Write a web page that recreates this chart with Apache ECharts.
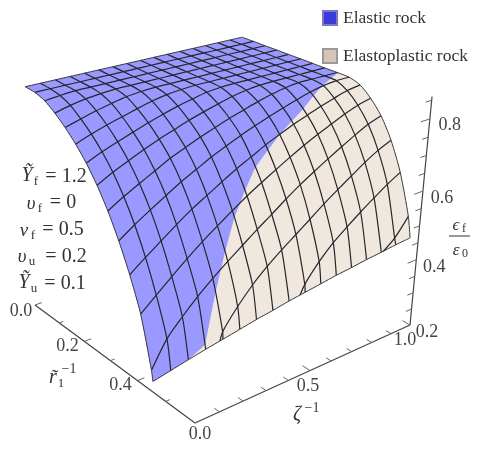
<!DOCTYPE html>
<html><head><meta charset="utf-8"><style>html,body{margin:0;padding:0;background:#fff}#c{width:481px;height:449px}</style>
<script src="https://cdn.jsdelivr.net/npm/echarts@6/dist/echarts.min.js"></script></head><body><div id="c"></div><script>
// r^-1 of the mesh rows, zeta^-1 of the mesh columns
const rowR=[0,.0375,.075,.1125,.15,.1875,.225,.2625,.3,.3375,.375,.4125,.45,.4875,.525,.5625];
const colZeta=[0,.0625,.125,.1875,.25,.3125,.375,.4375,.5,.5625,.625,.6875,.75,.8125,.875,.9375,1];
// far end of each mesh row on the zeta^-1 axis
const rowZetaEnd=[.935,.943,.95,.958,.965,.973,.98,.987,.995,1,1,1,1,1,1,1];
// epsilon_f/epsilon_0 read at each row (down) and column (across)
const zRow0=[.812,.812,.812,.812,.812,.812,.812,.812,.812,.812,.812,.812,.812,.812,.812,.812,.812];
const zRow1=[.812,.812,.812,.812,.812,.812,.812,.812,.812,.812,.812,.812,.812,.812,.812,.812,.812];
const zRow2=[.805,.809,.812,.812,.812,.812,.812,.812,.812,.812,.812,.812,.812,.812,.812,.812,.812];
const zRow3=[.788,.798,.805,.809,.812,.812,.812,.812,.812,.812,.812,.812,.812,.812,.812,.812,.812];
const zRow4=[.766,.778,.789,.798,.806,.81,.812,.812,.812,.812,.812,.812,.812,.812,.812,.812,.812];
const zRow5=[.739,.754,.767,.778,.789,.799,.806,.81,.812,.812,.812,.812,.812,.812,.812,.812,.812];
const zRow6=[.706,.724,.739,.753,.767,.779,.79,.799,.807,.811,.812,.812,.812,.812,.812,.812,.812];
const zRow7=[.665,.687,.705,.723,.739,.753,.767,.779,.79,.8,.807,.811,.812,.812,.812,.812,.812];
const zRow8=[.615,.64,.662,.683,.704,.721,.738,.752,.766,.778,.79,.8,.808,.812,.812,.812,.812];
const zRow9=[.554,.583,.609,.634,.658,.679,.7,.718,.735,.75,.764,.777,.789,.8,.808,.812,.812];
const zRow10=[.482,.514,.544,.574,.602,.626,.65,.673,.693,.714,.731,.748,.762,.776,.788,.799,.805];
const zRow11=[.395,.431,.466,.5,.532,.561,.589,.616,.64,.663,.685,.706,.725,.742,.759,.773,.782];
const zRow12=[.259,.33,.375,.415,.45,.482,.512,.542,.57,.599,.626,.65,.673,.695,.716,.735,.748];
const zRow13=[null,null,null,null,.32,.375,.42,.457,.489,.518,.547,.577,.604,.63,.656,.678,.695];
const zRow14=[null,null,null,null,null,null,null,null,null,.395,.445,.485,.516,.545,.572,.598,.62];
const zRow15=[null,null,null,null,null,null,null,null,null,null,null,null,null,null,null,.46,.51];
const zRows=[zRow0,zRow1,zRow2,zRow3,zRow4,zRow5,zRow6,zRow7,zRow8,zRow9,zRow10,zRow11,zRow12,zRow13,zRow14,zRow15];
// front rim of the surface, one point per column
const rEdge=[.455,.4637,.4723,.4806,.4889,.497,.5048,.5125,.52,.5273,.5345,.5415,.5484,.5551,.5616,.5679,.574];
const zEdge=[.23,.248,.266,.283,.299,.315,.331,.345,.36,.373,.386,.399,.41,.422,.432,.443,.452];
// elastic / elastoplastic limit
const yieldCol=[3,4,5,6,7,8,9,10,11,12,13,14,15,16];
const yieldR=[.478,.46,.44,.42,.405,.39,.383,.375,.368,.36,.348,.335,.32,.303];
const rTicks=[0,.1,.2,.3,.4,.5,.6];
const rMajor=[0,.2,.4];
const zetaTicks=[0,.1,.2,.3,.4,.5,.6,.7,.8,.9,1];
const zetaMajor=[0,.5,1];
const zTicks=[.2,.25,.3,.35,.4,.45,.5,.55,.6,.65,.7,.75,.8,.85];
const zMajor=[.2,.4,.6,.8];
const rLabels=[[0,'0.0',-14,6],[.2,'0.2',-17,5],[.4,'0.4',-17,5]];
const zetaLabels=[[0,'0.0',5,11],[.5,'0.5',-2,16],[1,'1.0',-5,15]];
const zLabels=[[.2,'0.2',17,7],[.4,'0.4',18,8],[.6,'0.6',19,7],[.8,'0.8',20,6]];
function P(r,zeta,z){const a=1-r/.6,b=zeta,t=(z-.2)/.6,D=1+.12*a+.15*b-.0834*t;
 return [(195-155.8*a+276.5*b-13*t)/D,(423-81.4*a-49.25*b-246.9*t)/D];}
const nodeP=(i,j)=>P(rowR[i],colZeta[j]*rowZetaEnd[i],zRows[i][j]);
function colPts(j,rmax){const o=[];rowR.forEach((r,i)=>{if(zRows[i][j]!==null&&(rmax===undefined||r<rmax))o.push(nodeP(i,j));});return o;}
const edgePt=j=>P(rEdge[j],colZeta[j],zEdge[j]);
function rowPts(i){const r=rowR[i],o=[];colZeta.forEach((_,j)=>{if(zRows[i][j]!==null){if(!o.length&&j>0){const s=(r-rEdge[j-1])/(rEdge[j]-rEdge[j-1]);
 o.push(P(r,colZeta[j-1]+s*(colZeta[j]-colZeta[j-1]),zEdge[j-1]+s*(zEdge[j]-zEdge[j-1])));}o.push(nodeP(i,j));}});return o;}
function surfZ(j,r){let k=0;while(k+1<rowR.length&&rowR[k+1]<=r)k++;const c0=zRows[k][j],n=k+1<rowR.length?zRows[k+1][j]:null;
 if(n!==null){const s=(r-rowR[k])/(rowR[k+1]-rowR[k]);return c0+s*(n-c0);}
 const s=(r-rowR[k])/(rEdge[j]-rowR[k]);return c0+s*(zEdge[j]-c0);}
function surfacePoly(){const o=rowPts(0);colPts(16).slice(1).forEach(p=>o.push(p));for(let j=16;j>=0;j--)o.push(edgePt(j));colPts(0).reverse().forEach(p=>o.push(p));return o;}
function bluePoly(){const o=rowPts(0);colPts(16,yieldR[yieldR.length-1]).slice(1).forEach(p=>o.push(p));
 for(let k=yieldCol.length-1;k>=0;k--){const j=yieldCol[k];o.push(P(yieldR[k],colZeta[j],surfZ(j,yieldR[k])));}
 for(let j=yieldCol[0]-1;j>=0;j--)o.push(edgePt(j));colPts(0).reverse().forEach(p=>o.push(p));return o;}
const meshLines=[];
rowR.forEach((_,i)=>{if(i>0){const p=rowPts(i);if(p.length>1)meshLines.push(p);}});
colZeta.forEach((_,j)=>{if(j>0&&j<16)meshLines.push(colPts(j).concat([edgePt(j)]));});
const outline=[rowPts(0),colPts(0).concat([edgePt(0)]),colPts(16).concat([edgePt(16)]),colZeta.map((_,j)=>edgePt(j))];
const axisLines=[[P(0,0,.2),P(.6,0,.2)],[P(.6,0,.2),P(.6,1,.2)],[P(.6,1,.2),P(.6,1,.86)]];
const tickLines=[];
rTicks.forEach(r=>tickLines.push([P(r,0,.2),P(r,rMajor.includes(r)?.028:.017,.2)]));
zetaTicks.forEach(b=>tickLines.push([P(.6,b,.2),P(zetaMajor.includes(b)?.575:.583,b,.2)]));
zTicks.forEach(z=>tickLines.push([P(.6,1,z),P(.6,zMajor.includes(z)?.955:.97,z)]));
const serif='"Liberation Serif",serif';
const poly=(pts,api)=>pts.map(p=>api.coord(p));
function lines(name,list,color,w,smooth){return {type:'custom',name,coordinateSystem:'cartesian2d',silent:true,z:5,data:list.map((_,i)=>[i]),
 renderItem:(params,api)=>({type:'polyline',shape:{points:poly(list[api.value(0)],api),smooth:smooth||0},style:{fill:'none',stroke:color,lineWidth:w}})};}
function labelSeries(name,list,at){return {type:'custom',name,coordinateSystem:'cartesian2d',silent:true,z:6,data:list.map((_,i)=>[i]),
 renderItem:(params,api)=>{const l=list[api.value(0)],c=api.coord(at(l[0]));return {type:'text',x:c[0]+l[2],y:c[1]+l[3],style:{text:l[1],font:'18px '+serif,fill:'#444',align:'center',verticalAlign:'middle'}};}};}
const T=(x,y,text,size,style)=>({type:'text',x,y,style:{text,font:(style||'')+' '+size+'px '+serif,fill:'#333',align:'center',verticalAlign:'middle'}});
const graphic=[
 T(27,176,'Ỹ',20,'italic'),T(36,182,'f',13),T(66,177,'= 1.2',20),
 T(31,204,'υ',19,'italic'),T(40,209,'f',13),T(63,203,'= 0',20),
 T(24,231,'ν',19,'italic'),T(33,236,'f',13),T(63,230,'= 0.5',20),
 T(22,257,'υ',19,'italic'),T(32,262,'u',13),T(66,257,'= 0.2',20),
 T(24,283,'Ỹ',20,'italic'),T(34,289,'u',13),T(65,284,'= 0.1',20),
 T(53,378,'r̃',20,'italic'),T(61,384,'1',13),T(69,369,'−1',14),
 T(297,415,'ζ',20,'italic'),T(312,408,'−1',14),
 T(456,226,'ϵ',17,'italic'),T(464,229,'f',12),
 T(456,251,'ε',17,'italic'),T(465,254,'0',12),
 {type:'line',shape:{x1:449,y1:236,x2:470,y2:236},style:{stroke:'#333',lineWidth:1}}
];
const chart=echarts.init(document.getElementById('c'),null,{renderer:'canvas'});
chart.setOption({animation:false,backgroundColor:'#fff',
 grid:{left:0,right:0,top:0,bottom:0},
 xAxis:{type:'value',min:0,max:481,show:false},yAxis:{type:'value',min:0,max:449,inverse:true,show:false},
 legend:{left:317,top:4,orient:'vertical',itemGap:20,itemWidth:14,itemHeight:14,icon:'rect',selectedMode:false,textStyle:{fontFamily:serif,fontSize:17.5,color:'#333',padding:[0,0,0,1]},data:['Elastic rock','Elastoplastic rock']},
 graphic,
 series:[
  {type:'custom',name:'Elastoplastic rock',coordinateSystem:'cartesian2d',silent:true,z:2,itemStyle:{color:'#d6c6b8',borderColor:'#9a9a9a',borderWidth:1},data:[[0]],
   renderItem:(p,api)=>({type:'polygon',shape:{points:poly(surfacePoly(),api)},style:{fill:'#f0e8df'}})},
  {type:'custom',name:'Elastic rock',coordinateSystem:'cartesian2d',silent:true,z:3,itemStyle:{color:'#3c3cdc',borderColor:'#7a7ac0',borderWidth:1},data:[[0]],
   renderItem:(p,api)=>({type:'polygon',shape:{points:poly(bluePoly(),api)},style:{fill:'#9999ff'}})},
  lines('mesh',meshLines,'#26262c',1.2,.25),lines('outline',outline,'#3a3a3a',1,.25),
  lines('axes',axisLines,'#444',1.2),lines('ticks',tickLines,'#666',1),
  labelSeries('rLabels',rLabels,v=>P(v,0,.2)),labelSeries('zetaLabels',zetaLabels,v=>P(.6,v,.2)),labelSeries('zLabels',zLabels,v=>P(.6,1,v))
 ]});
</script></body></html>
